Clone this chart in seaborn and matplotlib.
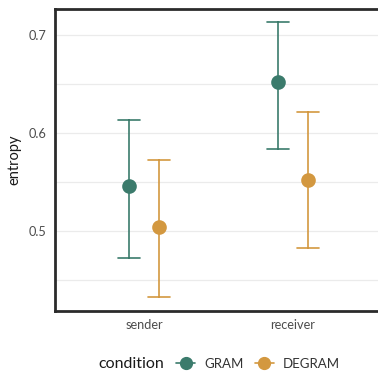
import matplotlib
matplotlib.use("Agg")
import matplotlib.pyplot as plt
import seaborn as sns
import pandas as pd
from matplotlib.ticker import MultipleLocator
from matplotlib.lines import Line2D

roles = ["sender", "receiver"]
conditions = ["GRAM", "DEGRAM"]
gram_mean = [0.546, 0.652]
gram_low = [0.472, 0.584]
gram_high = [0.613, 0.713]
degram_mean = [0.504, 0.552]
degram_low = [0.433, 0.483]
degram_high = [0.572, 0.621]
colors = ["#3b7b6c", "#d39840"]

rows = []
for cond, m, lo, hi in [("GRAM", gram_mean, gram_low, gram_high),
                        ("DEGRAM", degram_mean, degram_low, degram_high)]:
    for i, r in enumerate(roles):
        for v in (lo[i], m[i], hi[i]):
            rows.append({"role": r, "condition": cond, "entropy": v})
df = pd.DataFrame(rows)

sns.set_theme(style="white")
plt.rcParams["font.family"] = ["Lato", "DejaVu Sans"]

fig = plt.figure(figsize=(3.78, 3.73), dpi=100)
ax = fig.add_axes([55/378, 62/373, 327/378, 302/373])

sns.pointplot(data=df, x="role", y="entropy", hue="condition", order=roles,
              hue_order=conditions, palette=colors, estimator="median",
              errorbar=("pi", 100), dodge=0.2, linestyle="none", capsize=0.15,
              markersize=8.5, err_kws={"linewidth": 1.2}, ax=ax, legend=False)

ax.set_xlim(-0.6, 1.6)
ax.set_ylim(0.4184, 0.7265)
ax.yaxis.set_major_locator(MultipleLocator(0.1))
ax.yaxis.set_minor_locator(MultipleLocator(0.05))
ax.grid(True, which="both", axis="y", color="#ebebeb", linewidth=0.9)
ax.set_axisbelow(True)
for s in ax.spines.values():
    s.set_color("#2b2b2b")
    s.set_linewidth(2)
ax.tick_params(axis="both", length=0, labelsize=9.2, labelcolor="#4d4d4d", pad=6)
ax.set_xlabel("")
ax.set_ylabel("entropy", fontsize=10.5, color="#1a1a1a", labelpad=5)

handles = [Line2D([], [], color=c, marker="o", markersize=8.5, linewidth=1.2)
           for c in colors]
fig.legend(handles, conditions, ncol=2, loc="center left",
           bbox_to_anchor=(171/378, 1 - 364/373), borderaxespad=0,
           frameon=False, fontsize=9.5, handlelength=1.4, handletextpad=0.7,
           columnspacing=0.9, labelcolor="#333333")
fig.text(98/378, 1 - 364/373, "condition", fontsize=11.5, va="center", ha="left",
         color="#1a1a1a")

fig.savefig("out.png", dpi=100)
